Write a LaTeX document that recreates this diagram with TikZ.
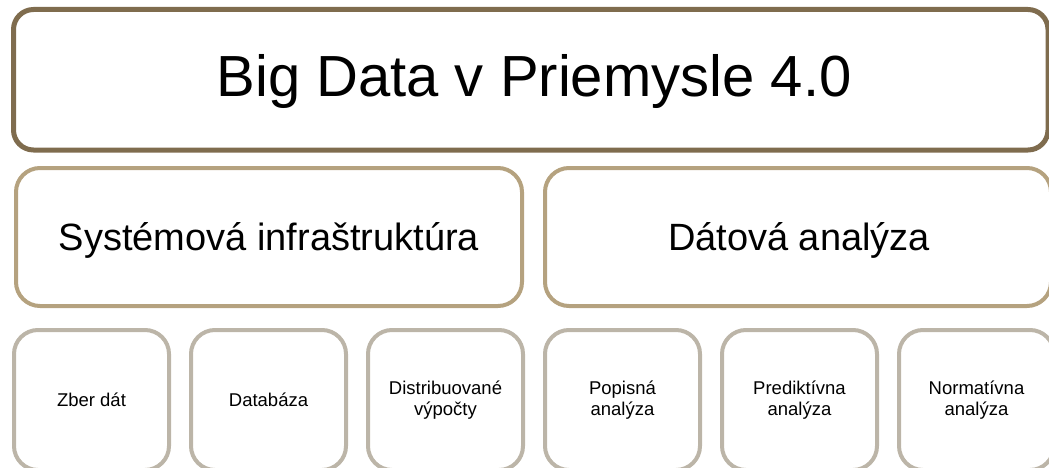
\documentclass[tikz,border=0pt]{standalone}
\usepackage{fontspec}
\setmainfont{Liberation Sans}
\begin{document}
\begin{tikzpicture}[x=1pt,y=-1pt,
  topbox/.style={draw=topcol,line width=5pt,rounded corners=20pt},
  midbox/.style={draw=midcol,line width=4pt,rounded corners=24pt},
  lowbox/.style={draw=lowcol,line width=4pt,rounded corners=24pt},
  lbl/.style={align=center,text=black,inner sep=0pt}]
\definecolor{topcol}{RGB}{127,108,78}
\definecolor{midcol}{RGB}{181,162,127}
\definecolor{lowcol}{RGB}{188,181,168}
\useasboundingbox (0,0) rectangle (1049,468);
\clip (0,0) rectangle (1049,468);
% title bar
\draw[topbox] (13.5,9.5) rectangle (1048,150);
\node[lbl,font=\fontsize{58}{62}\selectfont] (title) at (534,82) {Big Data v Priemysle 4.0};
% two main areas
\draw[midbox] (16,168) rectangle (522,306);
\node[lbl,font=\fontsize{38}{42}\selectfont] (infra) at (269,240) {Systémová infraštruktúra};
\draw[midbox] (545,168) rectangle (1051,306);
\node[lbl,font=\fontsize{38}{42}\selectfont] (analyza) at (799,240) {Dátová analýza};
% six detail boxes
\foreach \i/\txt in {0/{Zber dát},1/{Databáza},2/{Distribuované\\výpočty},
                     3/{Popisná\\analýza},4/{Prediktívna\\analýza},5/{Normatívna\\analýza}}{
  \pgfmathsetmacro{\xl}{14+177*\i}
  \draw[lowbox] (\xl,330) rectangle ({\xl+155},470);
  \node[lbl,font=\fontsize{18.5}{21.5}\selectfont] (d\i) at ({\xl+77.5},400) {\txt};
}
\end{tikzpicture}
\end{document}
